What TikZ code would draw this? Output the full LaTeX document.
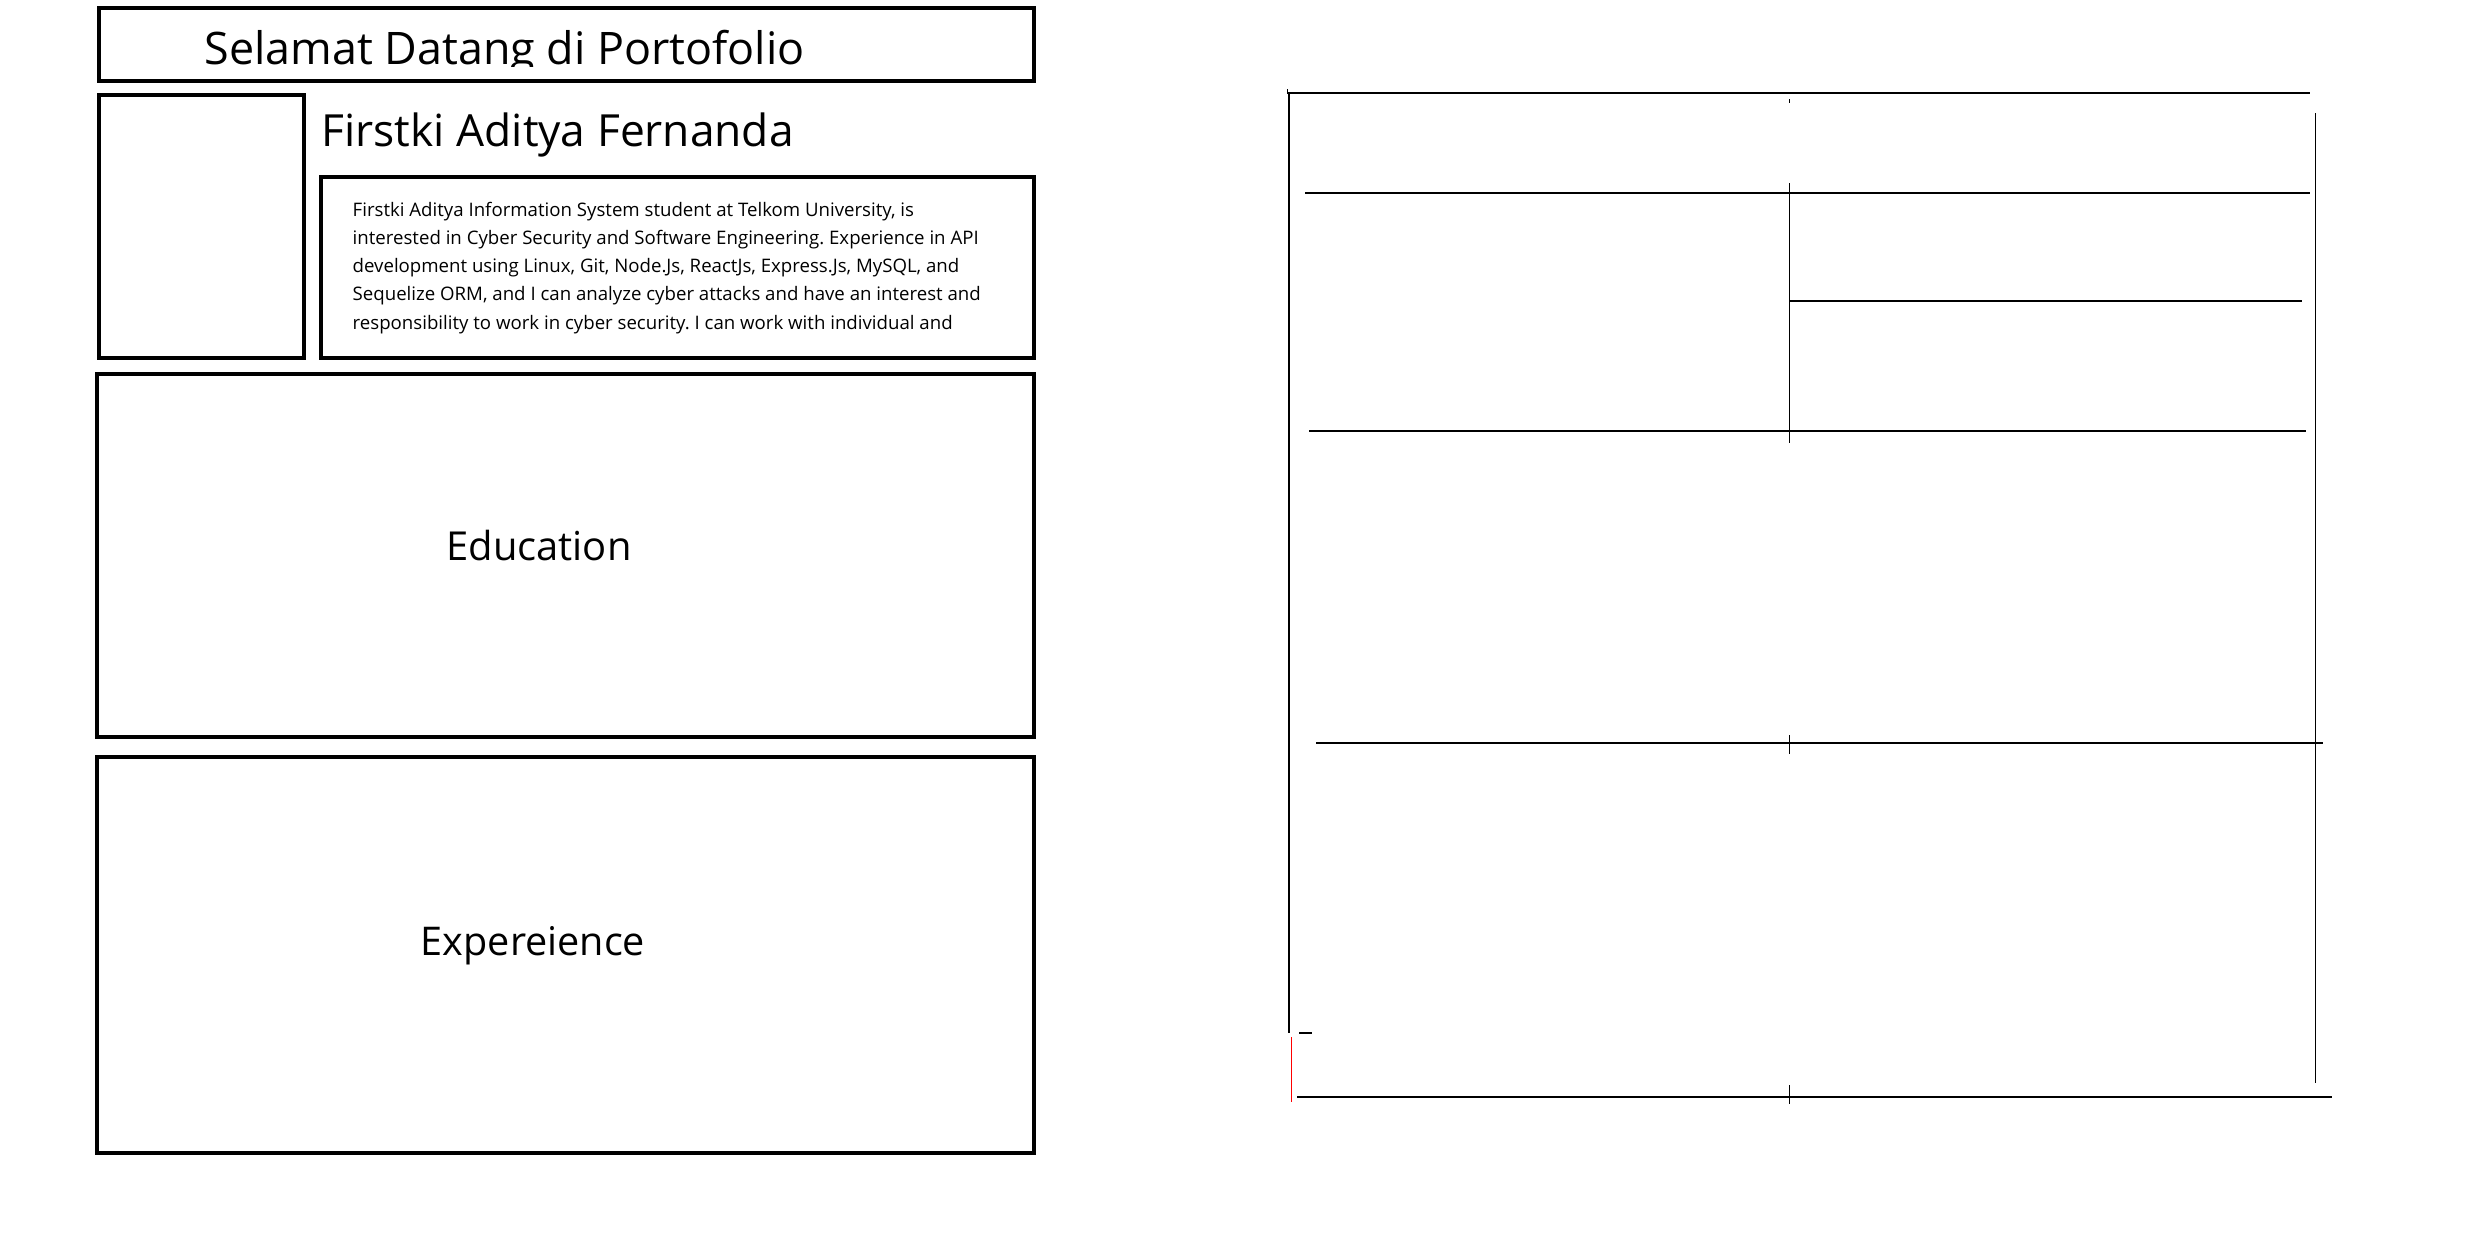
\documentclass[tikz,border=0pt]{standalone}
\usepackage{fontspec}
\setmainfont{Open Sans}
\usepackage{tikz}
\frenchspacing

\begin{document}
\begin{tikzpicture}[x=0.01cm, y=-0.01cm,
		box/.style={draw=black, line width=0.95pt},
		rule/.style={draw=black, line width=0.36pt},
		hair/.style={draw=black, line width=0.26pt},
		big/.style={inner sep=0pt, font=\fontsize{12.75}{15}\selectfont},
		head/.style={inner sep=0pt, anchor=base, font=\fontsize{11.35}{14}\selectfont},
		bio/.style={inner sep=0pt, anchor=base west, font=\fontsize{5.3}{8}\selectfont}]
				
				\useasboundingbox (0,0) rectangle (2492,1256);
				
				% left column
				\draw[box] (99,8) rectangle (1034,81);
				\begin{scope}
					\clip (99,8) rectangle (1034,66);
					\node[big, anchor=base west] (T) at (204,64) {Selamat Datang di Portofolio};
				\end{scope}
				
				\draw[box] (99,95) rectangle (304,358);
				\node[big, anchor=base west, font=\fontsize{12.6}{15}\selectfont] (N) at (321,146) {Firstki Aditya Fernanda};
				
				\draw[box] (321,177) rectangle (1034,358);
				\node[bio] (B1) at (352,216) {Firstki Aditya Information System student at Telkom University, is};
				\node[bio] (B2) at (352,244.3) {interested in Cyber Security and Software Engineering. Experience in API};
				\node[bio] (B3) at (352,272.6) {development using Linux, Git, Node.Js, ReactJs, Express.Js, MySQL, and};
				\node[bio] (B4) at (352,300.9) {Sequelize ORM, and I can analyze cyber attacks and have an interest and};
				\node[bio] (B5) at (352,329.2) {responsibility to work in cyber security. I can work with individual and};
				
				\draw[box] (97,374) rectangle (1034,737);
				\node[head] (E) at (539,560) {Education};
				
				\draw[box] (97,757) rectangle (1034,1153);
				\node[head, font=\fontsize{11.25}{14}\selectfont] (X) at (533,955) {Expereience};
				
				% right column
				\draw[hair] (1287,89) -- (1287,93);
				\draw[rule] (1287,93) -- (2310,93);
				\draw[rule] (1289,93) -- (1289,1033);
				\draw[hair] (1789,99) -- (1789,103);
				\draw[hair] (2315,113) -- (2315,1083);
				
				\draw[rule] (1305,193) -- (2310,193);
				\draw[hair] (1789,183) -- (1789,443);
				\draw[rule] (1790,301) -- (2302,301);
				\draw[rule] (1309,431) -- (2306,431);
				
				\draw[rule] (1316,743) -- (2323,743);
				\draw[hair] (1789,735) -- (1789,754);
				
				\draw[rule] (1299,1033) -- (1312,1033);
				\draw[red, line width=0.26pt] (1291,1037) -- (1291,1102);
				\draw[rule] (1297,1097) -- (2332,1097);
				\draw[hair] (1789,1085) -- (1789,1104);
				
			\end{tikzpicture}
\end{document}
